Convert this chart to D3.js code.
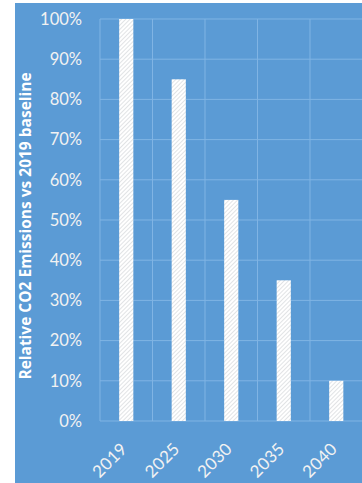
<!DOCTYPE html>
<html><head><meta charset="utf-8">
<script src="https://cdn.jsdelivr.net/npm/d3@7"></script>
<style>html,body{margin:0;padding:0;background:#fff;}svg{display:block;}</style>
</head><body>
<script>
const categories = ["2019","2025","2030","2035","2040"];
const values = [1.00, 0.85, 0.55, 0.35, 0.10];
const yTicks = [0,0.1,0.2,0.3,0.4,0.5,0.6,0.7,0.8,0.9,1.0];
const yTitle = "Relative CO2 Emissions vs 2019 baseline";

(function(){
const W = 362, H = 483;
const svg = d3.select("body").append("svg").attr("width", W).attr("height", H);
const defs = svg.append("defs");
const pat = defs.append("pattern").attr("id","hatch").attr("patternUnits","userSpaceOnUse")
  .attr("width",3).attr("height",3).attr("patternTransform","rotate(45)");
pat.append("rect").attr("width",3).attr("height",3).attr("fill","#ffffff");
pat.append("line").attr("x1",0).attr("y1",0).attr("x2",0).attr("y2",3)
  .attr("stroke","#bcc1c6").attr("stroke-width",0.9);

svg.append("rect").attr("x",15).attr("y",3).attr("width",W-15).attr("height",H-3).attr("fill","#5b9bd5");

const pl = 100, pr = 362.5, pt = 19, pb = 421;
const x = d3.scaleBand().domain(categories).range([pl, pr]).padding(0);
const y = d3.scaleLinear().domain([0,1]).range([pb, pt]);
const grid = "#80b4e4";
const textCol = "#f2f2f2";
const font = "Lato, 'Open Sans', sans-serif";

svg.append("g").selectAll("line").data(yTicks).join("line")
  .attr("x1", pl).attr("x2", W).attr("y1", d=>y(d)).attr("y2", d=>y(d))
  .attr("stroke", grid).attr("stroke-width",1);
svg.append("g").selectAll("line").data(categories).join("line")
  .attr("x1", d=>x(d)).attr("x2", d=>x(d)).attr("y1", pt).attr("y2", pb)
  .attr("stroke", grid).attr("stroke-width",1);

const bw = x.bandwidth()*0.27;
svg.append("g").selectAll("rect").data(categories).join("rect")
  .attr("x", (d)=>x(d)+x.bandwidth()/2-bw/2)
  .attr("y", (d,i)=>y(values[i]))
  .attr("width", bw)
  .attr("height", (d,i)=>y(0)-y(values[i]))
  .attr("fill","url(#hatch)");

const yAxis = d3.axisLeft(y).tickValues(yTicks).tickFormat(d3.format(".0%")).tickSize(0).tickPadding(18);
const ya = svg.append("g").attr("transform",`translate(${pl},0)`).call(yAxis);
ya.select(".domain").remove();
ya.selectAll("text").attr("fill",textCol).style("font-family",font).style("font-size","16.5px");

const xAxis = d3.axisBottom(x).tickSize(0).tickPadding(0);
const xa = svg.append("g").attr("transform",`translate(0,${pb})`).call(xAxis);
xa.select(".domain").remove();
xa.selectAll("text").attr("fill",textCol).style("font-family",font).style("font-size","17px")
  .style("letter-spacing","0.3px")
  .attr("text-anchor","end").attr("dy",null).attr("y",null)
  .attr("transform","translate(2,29) rotate(-45)");

svg.append("text").attr("transform",`translate(31,${(pt+pb)/2+6}) rotate(-90)`)
  .attr("text-anchor","middle").attr("fill","#ffffff")
  .style("font-family","'Open Sans', Lato, sans-serif").style("font-size","15.5px").style("font-weight","bold")
  .text(yTitle);
})();
</script>
</body></html>
